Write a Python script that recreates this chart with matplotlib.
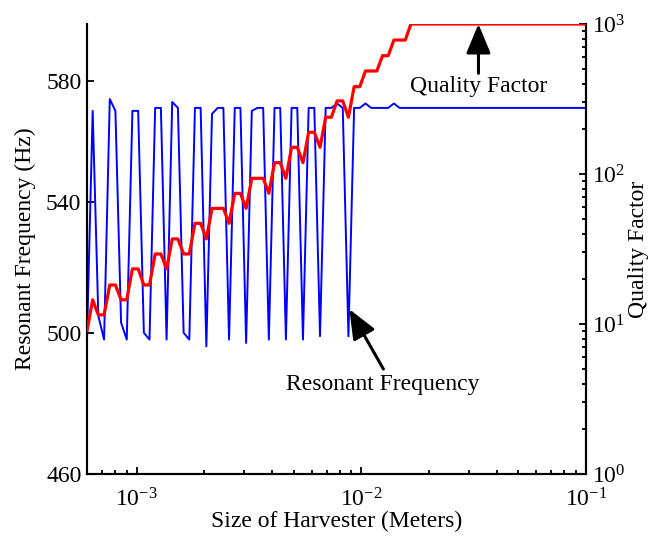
import matplotlib
matplotlib.use('Agg')
import matplotlib.pyplot as plt
from matplotlib.ticker import NullLocator, FixedLocator, FixedFormatter, LogLocator

plt.rcParams['font.family'] = ['Liberation Serif', 'DejaVu Serif']
plt.rcParams['mathtext.fontset'] = 'stix'

# harvester size sweep (meters)
size_m = [6.00e-4, 6.36e-4, 6.74e-4, 7.15e-4, 7.58e-4, 8.03e-4, 8.51e-4, 9.02e-4,
          9.56e-4, 1.014e-3, 1.075e-3, 1.139e-3, 1.207e-3, 1.280e-3, 1.357e-3,
          1.438e-3, 1.524e-3, 1.616e-3, 1.713e-3, 1.815e-3, 1.924e-3, 2.040e-3,
          2.162e-3, 2.292e-3, 2.429e-3, 2.575e-3, 2.730e-3, 2.893e-3, 3.067e-3,
          3.251e-3, 3.446e-3, 3.653e-3, 3.872e-3, 4.104e-3, 4.351e-3, 4.612e-3,
          4.888e-3, 5.182e-3, 5.493e-3, 5.822e-3, 6.171e-3, 6.542e-3, 6.934e-3,
          7.350e-3, 7.791e-3, 8.259e-3, 8.754e-3, 9.280e-3, 9.836e-3, 1.0426e-2,
          1.1052e-2, 1.1715e-2, 1.2418e-2, 1.3163e-2, 1.3953e-2, 1.4790e-2,
          1.5678e-2, 1.6618e-2, 1.0e-1]

# resonant frequency (Hz)
freq_hz = [498, 570, 505, 498, 574, 570, 503, 498, 570, 570, 500, 498, 571, 571,
           498, 573, 571, 500, 498, 571, 571, 496, 569, 571, 571, 498, 571, 571,
           497, 570, 571, 571, 498, 571, 571, 498, 571, 571, 498, 571, 571, 499,
           571, 571, 572.5, 571, 499, 571, 571, 572.5, 571, 571, 571, 571, 572.5,
           571, 571, 571, 571]

# quality factor
q_factor = [9.0, 14.5, 11.5, 11.5, 18.2, 18.2, 14.5, 14.5, 23.3, 23.3, 18.2, 18.2,
            29.3, 29.3, 23.3, 36.9, 36.9, 29.3, 29.3, 46.9, 46.9, 36.9, 59.0, 59.0,
            59.0, 46.9, 74.3, 74.3, 59.0, 93.6, 93.6, 93.6, 74.3, 119, 119, 93.6,
            150.6, 150.6, 119, 189.7, 189.7, 150.6, 239, 239, 307, 307, 239, 382,
            382, 486, 486, 486, 615, 615, 782, 782, 782, 1000, 1000]

freq_ticks = [460, 500, 540, 580]

fs = 17

fig = plt.figure(figsize=(6.53, 5.42), dpi=100)
ax = fig.add_axes([0.1332, 0.1255, 0.7642, 0.8302])
ax2 = ax.twinx()

ax.plot(size_m, freq_hz, color='#0000ff', lw=1.4, zorder=2)
ax2.plot(size_m, q_factor, color='#ff0000', lw=2.3, zorder=3)

ax.set_xscale('log')
ax.set_xlim(6e-4, 1e-1)
ax.set_yscale('log')
ax.set_ylim(460, 600)
ax.yaxis.set_major_locator(FixedLocator(freq_ticks))
ax.yaxis.set_major_formatter(FixedFormatter([str(t) for t in freq_ticks]))
ax.yaxis.set_minor_locator(NullLocator())
ax.xaxis.set_major_locator(LogLocator(base=10, numticks=10))
ax.xaxis.set_minor_locator(LogLocator(base=10, subs=range(2, 10), numticks=20))

ax2.set_yscale('log')
ax2.set_ylim(1, 1000)
ax2.yaxis.set_minor_locator(LogLocator(base=10, subs=range(2, 10), numticks=20))

for a in (ax, ax2):
    a.spines['top'].set_visible(False)
    for s in a.spines.values():
        s.set_linewidth(1.5)
    a.tick_params(which='both', direction='in', width=1.3, labelsize=fs)
    a.tick_params(which='major', length=5)
    a.tick_params(which='minor', length=3)
ax.tick_params(axis='x', which='major', pad=10)
ax.tick_params(axis='y', which='major', pad=4)
ax2.tick_params(axis='y', which='major', pad=4)

ax.set_xlabel('Size of Harvester (Meters)', fontsize=fs, labelpad=0)
ax.set_ylabel('Resonant Frequency (Hz)', fontsize=fs, labelpad=7)
ax2.set_ylabel('Quality Factor', fontsize=fs, labelpad=2)

arrow = dict(arrowstyle='-|>,head_length=0.6,head_width=0.25', color='k', lw=2.2,
             mutation_scale=30, shrinkA=0, shrinkB=0)
ax.annotate('', xy=(8.84e-3, 507.0), xytext=(1.253e-2, 489.4), arrowprops=arrow)
ax.text(1.25e-2, 485.1, 'Resonant Frequency', fontsize=fs, ha='center', va='center')

ax2.annotate('', xy=(0.0332, 1000), xytext=(0.0332, 469), arrowprops=arrow)
ax2.text(0.0332, 382, 'Quality Factor', fontsize=fs, ha='center', va='center')

fig.savefig('out.png', dpi=100)
